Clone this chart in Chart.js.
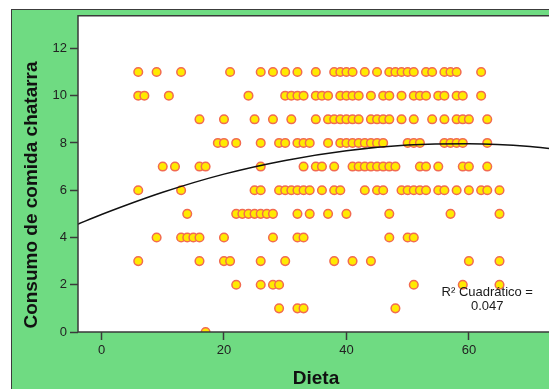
<!DOCTYPE html>
<html>
<head>
<meta charset="utf-8">
<script src="https://cdn.jsdelivr.net/npm/chart.js@4.4.1/dist/chart.umd.min.js"></script>
<style>
  html, body { margin: 0; padding: 0; background: #fff; overflow: hidden; }
  #frame {
    position: absolute; left: 11px; top: 9px;
    width: 600px; height: 380px;
    background: #6fdb82;
    border-left: 1px solid #3c3c3c; border-top: 1px solid #3c3c3c;
  }
  canvas { display: block; }
</style>
</head>
<body>
<div id="frame"><canvas id="chart" width="600" height="380"></canvas></div>
<script>
// Dieta values observed at each level of "Consumo de comida chatarra"
const consumo0 = [17];
const consumo1 = [29, 32, 33, 48];
const consumo2 = [22, 26, 28, 29, 51, 59, 65];
const consumo3 = [6, 16, 20, 21, 26, 30, 38, 41, 44, 60, 65];
const consumo4 = [9, 13, 14, 15, 16, 20, 28, 32, 33, 47, 50, 51];
const consumo5 = [14, 22, 23, 24, 25, 26, 27, 28, 32, 34, 37, 40, 47, 57, 65];
const consumo6 = [6, 13, 25, 26, 29, 30, 31, 32, 33, 34, 36, 38, 39, 43, 45, 46, 49, 50, 51, 52, 53, 55, 56, 58, 60, 62, 63, 65];
const consumo7 = [10, 12, 16, 17, 26, 33, 35, 36, 38, 41, 42, 43, 44, 45, 46, 47, 48, 52, 53, 55, 59, 60, 63];
const consumo8 = [19, 20, 22, 26, 29, 30, 32, 33, 34, 37, 39, 40, 41, 42, 43, 44, 45, 46, 50, 51, 52, 56, 57, 58, 59, 63];
const consumo9 = [16, 20, 25, 28, 31, 35, 37, 38, 39, 40, 41, 42, 44, 45, 46, 47, 49, 51, 54, 56, 58, 59, 60, 63];
const consumo10 = [6, 7, 11, 24, 30, 31, 32, 33, 35, 36, 37, 39, 40, 41, 42, 44, 46, 47, 49, 51, 52, 53, 55, 56, 58, 59, 62];
const consumo11 = [6, 9, 13, 21, 26, 28, 30, 32, 35, 38, 39, 40, 41, 43, 45, 47, 48, 49, 50, 51, 53, 54, 56, 57, 58, 62];

// quadratic fit curve
const fitX = [-4, 0, 10, 20, 30, 40, 50, 60, 70, 80];
const fitY = [4.55, 4.97, 5.91, 6.68, 7.26, 7.67, 7.91, 7.97, 7.85, 7.55];

const xTicks = [0, 20, 40, 60];
const yTicks = [0, 2, 4, 6, 8, 10, 12];
const r2Label = ['R\u00b2 Cuadr\u00e1tico =', '0.047'];

const rows = [consumo0, consumo1, consumo2, consumo3, consumo4, consumo5,
  consumo6, consumo7, consumo8, consumo9, consumo10, consumo11];
const points = [];
rows.forEach((row, y) => {
  row.forEach(x => points.push({ x: x, y: y }));
});
const fitPoints = fitX.map((x, i) => ({ x: x, y: fitY[i] }));

const frameDeco = {
  id: 'frameDeco',
  beforeDraw(chart) {
    const { ctx, chartArea: a } = chart;
    ctx.save();
    ctx.fillStyle = '#ffffff';
    ctx.fillRect(a.left, a.top, a.right - a.left, a.bottom - a.top);
    ctx.restore();
  },
  afterDatasetsDraw(chart) {
    const { ctx, chartArea: a, scales } = chart;
    ctx.save();
    ctx.strokeStyle = '#3a3a3a';
    ctx.lineWidth = 1.5;
    ctx.beginPath();
    ctx.moveTo(a.right, a.top);
    ctx.lineTo(a.left, a.top);
    ctx.lineTo(a.left, a.bottom);
    ctx.lineTo(a.right, a.bottom);
    ctx.stroke();

    // R² annotation
    ctx.fillStyle = '#1a1a1a';
    ctx.font = '13px "Liberation Sans", Arial, sans-serif';
    ctx.textAlign = 'center';
    ctx.textBaseline = 'middle';
    const tx = scales.x.getPixelForValue(63);
    ctx.fillText(r2Label[0], tx, scales.y.getPixelForValue(1.66));
    ctx.fillText(r2Label[1], tx, scales.y.getPixelForValue(1.07));

    // axis titles
    ctx.fillStyle = '#111';
    ctx.font = 'bold 19px "Liberation Sans", Arial, sans-serif';
    ctx.fillText('Dieta', (a.left + a.right) / 2, 369);
    ctx.translate(20, 185);
    ctx.rotate(-Math.PI / 2);
    ctx.fillText('Consumo de comida chatarra', 0, 0);
    ctx.restore();
  }
};

const tickFont = { family: '"Liberation Sans", Arial, sans-serif', size: 13 };

new Chart(document.getElementById('chart'), {
  type: 'scatter',
  data: {
    datasets: [{
      label: 'Cuadrático',
      data: fitPoints,
      showLine: true,
      borderColor: '#111',
      borderWidth: 1.5,
      pointRadius: 0,
      cubicInterpolationMode: 'monotone',
      clip: 0,
      order: 0
    }, {
      label: 'Observado',
      data: points,
      pointRadius: 4.3,
      borderWidth: 1.5,
      backgroundColor: '#ffea00',
      borderColor: '#f26b50',
      clip: 0,
      order: 1
    }]
  },
  options: {
    responsive: false,
    animation: false,
    layout: { padding: { left: 0, top: 5, right: 58, bottom: 0 } },
    plugins: { legend: { display: false }, tooltip: { enabled: false } },
    scales: {
      x: {
        type: 'linear',
        min: -3.84,
        max: 73.9,
        afterFit(scale) {
          scale.height = 58;
          scale.paddingLeft = 0;
          scale.paddingRight = 0;
        },
        afterBuildTicks(scale) { scale.ticks = xTicks.map(v => ({ value: v })); },
        grid: { drawOnChartArea: false, tickLength: 8, tickWidth: 1.5, tickColor: '#3a3a3a' },
        border: { display: false },
        ticks: { font: tickFont, color: '#222', padding: 3 }
      },
      y: {
        min: 0,
        max: 13.38,
        afterFit(scale) {
          scale.width = 66;
          scale.paddingTop = 0;
          scale.paddingBottom = 0;
        },
        afterBuildTicks(scale) { scale.ticks = yTicks.map(v => ({ value: v })); },
        grid: { drawOnChartArea: false, tickLength: 8, tickWidth: 1.5, tickColor: '#3a3a3a' },
        border: { display: false },
        ticks: { font: tickFont, color: '#222', padding: 3 }
      }
    }
  },
  plugins: [frameDeco]
});
</script>
</body>
</html>
